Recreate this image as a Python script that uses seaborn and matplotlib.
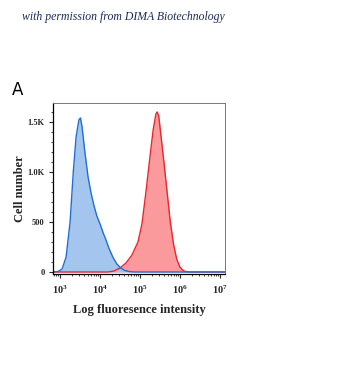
"""
Flow cytometry overlay histogram (unstained vs stained).
"""

import numpy as np
import pandas as pd
import matplotlib
matplotlib.use("Agg")
import matplotlib.pyplot as plt
import seaborn as sns
from matplotlib.ticker import FixedLocator, FixedFormatter, MultipleLocator, LogLocator, NullFormatter

# log10 fluorescence positions and cell counts
blue_log = [2.82, 2.95, 3.05, 3.15, 3.25, 3.33, 3.40, 3.47, 3.51, 3.55, 3.62, 3.70, 3.78,
            3.85, 3.92, 4.00, 4.08, 4.15, 4.22, 4.32, 4.42, 4.52, 4.62, 4.72, 4.85, 7.13]
blue_count = [0, 5, 30, 150, 500, 1000, 1350, 1520, 1540, 1450, 1200, 950, 780,
              660, 560, 480, 390, 320, 240, 150, 80, 40, 15, 5, 0, 0]

red_log = [2.82, 4.20, 4.35, 4.50, 4.65, 4.80, 4.95, 5.05, 5.15, 5.25, 5.33, 5.40, 5.43,
           5.47, 5.53, 5.60, 5.68, 5.76, 5.84, 5.92, 6.00, 6.08, 6.15, 6.25, 7.13]
red_count = [0, 0, 10, 40, 90, 170, 300, 480, 800, 1150, 1420, 1580, 1600,
             1560, 1350, 1100, 800, 500, 280, 130, 50, 15, 3, 0, 0]

x_ticks = [3, 4, 5, 6, 7]
y_ticks = [0, 500, 1000, 1500]
y_tick_labels = ["0", "500", "1.0K", "1.5K"]

sns.set_theme(style="ticks")
plt.rcParams["font.family"] = ["Liberation Serif", "DejaVu Serif"]
plt.rcParams["mathtext.fontset"] = "custom"
plt.rcParams["mathtext.rm"] = "Liberation Serif:bold"
plt.rcParams["mathtext.it"] = "Liberation Serif:bold"
plt.rcParams["mathtext.bf"] = "Liberation Serif:bold"

blue_df = pd.DataFrame({"x": 10.0 ** np.array(blue_log), "count": blue_count})
red_df = pd.DataFrame({"x": 10.0 ** np.array(red_log), "count": red_count})

fig = plt.figure(figsize=(3.6, 3.87), dpi=100)
ax = fig.add_axes([0.147, 0.292, 0.478, 0.442])

ax.fill_between(red_df["x"], red_df["count"], color="#fb9a9c", lw=0)
ax.fill_between(blue_df["x"], blue_df["count"], color="#9fc3ee", lw=0, alpha=0.95)
sns.lineplot(data=red_df, x="x", y="count", ax=ax, color="#e8262c", lw=1.0, sort=False)
sns.lineplot(data=blue_df, x="x", y="count", ax=ax, color="#1f6fd2", lw=1.0, sort=False)

ax.set_xscale("log")
ax.set_xlim(10 ** 2.82, 10 ** 7.13)
ax.set_ylim(-20, 1690)

ax.xaxis.set_major_locator(FixedLocator([10.0 ** t for t in x_ticks]))
ax.xaxis.set_major_formatter(FixedFormatter([f"$10^{{{t}}}$" for t in x_ticks]))
ax.xaxis.set_minor_locator(LogLocator(base=10, subs=np.arange(2, 10)))
ax.xaxis.set_minor_formatter(NullFormatter())
ax.yaxis.set_major_locator(FixedLocator(y_ticks))
ax.yaxis.set_major_formatter(FixedFormatter(y_tick_labels))
ax.yaxis.set_minor_locator(MultipleLocator(100))

ax.tick_params(axis="y", which="major", length=3, width=0.8, labelsize=6, pad=3)
ax.tick_params(axis="x", which="major", length=3, width=0.8, labelsize=7.5, pad=4)
ax.tick_params(axis="both", which="minor", length=1.5, width=0.6)
for lab in ax.get_yticklabels():
    lab.set_fontweight("bold")

for side in ["left", "bottom"]:
    ax.spines[side].set_color("black")
    ax.spines[side].set_linewidth(0.9)
for side in ["top", "right"]:
    ax.spines[side].set_color("#777777")
    ax.spines[side].set_linewidth(0.7)

ax.set_xlabel("Log fluoresence intensity", fontsize=9, fontweight="bold", labelpad=6)
ax.set_ylabel("Cell number", fontsize=9, fontweight="bold", labelpad=1)

fig.text(0.033, 0.755, "A", fontsize=12, family="DejaVu Sans", color="black")
fig.text(0.06, 0.948, "with permission from DIMA Biotechnology", fontsize=8.5,
         style="italic", family="Liberation Serif", color="#1c2a5c")

fig.savefig("out.png", dpi=100)
plt.close(fig)
